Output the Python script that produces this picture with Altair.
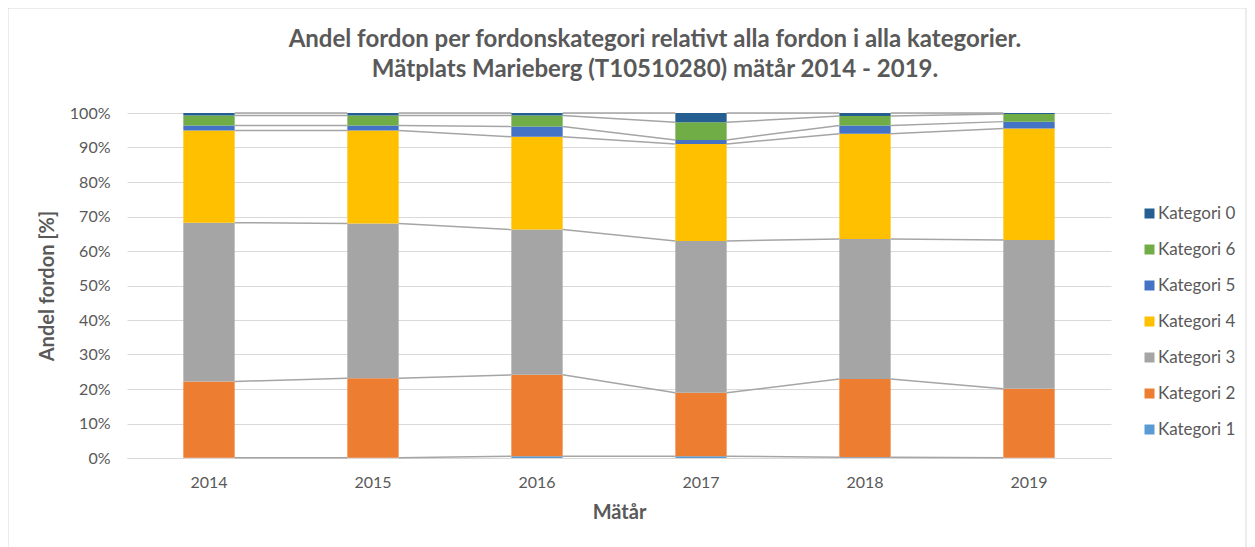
import altair as alt
import pandas as pd

years = ["2014", "2015", "2016", "2017", "2018", "2019"]
# stack order bottom -> top
categories = ["Kategori 1", "Kategori 2", "Kategori 3", "Kategori 4",
              "Kategori 5", "Kategori 6", "Kategori 0"]
kat1 = [0.1, 0.1, 0.5, 0.5, 0.2, 0.1]
kat2 = [22.1, 23.0, 23.6, 18.4, 22.7, 20.0]
kat3 = [46.0, 44.9, 42.1, 44.0, 40.6, 43.1]
kat4 = [26.7, 26.9, 26.9, 28.1, 30.5, 32.3]
kat5 = [1.5, 1.5, 3.0, 1.2, 2.4, 2.0]
kat6 = [2.9, 2.9, 3.2, 5.1, 2.7, 2.2]
kat0 = [0.7, 0.7, 0.7, 2.7, 0.9, 0.3]
series = [kat1, kat2, kat3, kat4, kat5, kat6, kat0]
colors = ["#5B9BD5", "#ED7D31", "#A5A5A5", "#FFC000", "#4472C4", "#70AD47", "#255E91"]
y_ticks = list(range(0, 101, 10))

rows = []
for k, (cat, vals) in enumerate(zip(categories, series)):
    for y, v in zip(years, vals):
        rows.append({"year": y, "cat": cat, "value": v, "ord": k})
df = pd.DataFrame(rows)

# series lines: connect top of each stacked segment between adjacent bars
line_rows = []
for k in range(len(categories)):
    tops = [sum(series[j][i] for j in range(k + 1)) for i in range(len(years))]
    for i in range(len(years) - 1):
        line_rows.append({"year": years[i], "next": years[i + 1],
                          "y0": tops[i], "y1": tops[i + 1]})
lines_df = pd.DataFrame(line_rows)

FONT = "Lato"
GREY = "#595959"
W, H = 984, 345

xscale = alt.Scale(domain=years, paddingInner=0.687, paddingOuter=0.3435)
yscale = alt.Scale(domain=[0, 100], nice=False)


def y_axis():
    return alt.Axis(values=y_ticks, labelExpr="datum.value + '%'",
                    labelOverlap=False, ticks=False, domain=False,
                    labelPadding=17, gridColor="#D9D9D9", titlePadding=12)


def x_axis():
    return alt.Axis(labelAngle=0, ticks=False, labelPadding=16,
                    domainColor="#D9D9D9", titlePadding=12)


legend_domain = list(reversed(categories))
legend_range = list(reversed(colors))

bars = alt.Chart(df).mark_bar().encode(
    x=alt.X("year:N", scale=xscale, title="Mätår", axis=x_axis()),
    y=alt.Y("value:Q", stack="zero", scale=yscale, title="Andel fordon [%]",
            axis=y_axis()),
    color=alt.Color("cat:N", scale=alt.Scale(domain=legend_domain, range=legend_range),
                    legend=alt.Legend(title=None, orient="none", legendX=1014,
                                      legendY=92, symbolType="square",
                                      symbolSize=100, symbolStrokeWidth=0,
                                      rowPadding=18, labelOffset=0)),
    order=alt.Order("ord:Q", sort="ascending"),
)

lines = alt.Chart(lines_df).mark_rule(color="#A5A5A5", strokeWidth=1.5).encode(
    x=alt.X("year:N", bandPosition=1, scale=xscale, title="Mätår", axis=x_axis()),
    x2=alt.X2("next:N", bandPosition=0),
    y=alt.Y("y0:Q", scale=yscale, title="Andel fordon [%]", axis=y_axis()),
    y2="y1:Q",
)

frame = alt.Chart(pd.DataFrame({"a": [1]})).mark_rect(
    fillOpacity=0, stroke="#D9D9D9", strokeWidth=1
).encode(x=alt.value(-119), x2=alt.value(1119), y=alt.value(-105), y2=alt.value(440))

chart = alt.layer(frame, bars, lines).properties(
    width=W, height=H,
    autosize=alt.AutoSizeParams(type="none"),
    padding={"left": 119, "top": 105, "right": 136, "bottom": 89},
    title=alt.TitleParams(
        text=["Andel fordon per fordonskategori relativt alla fordon i alla kategorier.",
              "Mätplats Marieberg (T10510280) mätår 2014 - 2019."],
        font=FONT, fontSize=24, fontWeight="bold", color=GREY,
        anchor="middle", offset=-74, dx=36, lineHeight=30),
).configure_view(strokeWidth=0).configure_axis(
    labelFont=FONT, labelFontSize=16, labelColor=GREY,
    titleFont=FONT, titleFontSize=20, titleFontWeight="bold", titleColor=GREY,
).configure_legend(
    labelFont=FONT, labelFontSize=17, labelColor=GREY, padding=0,
)

chart.save("out.html", embed_options={"renderer": "svg", "actions": False})
